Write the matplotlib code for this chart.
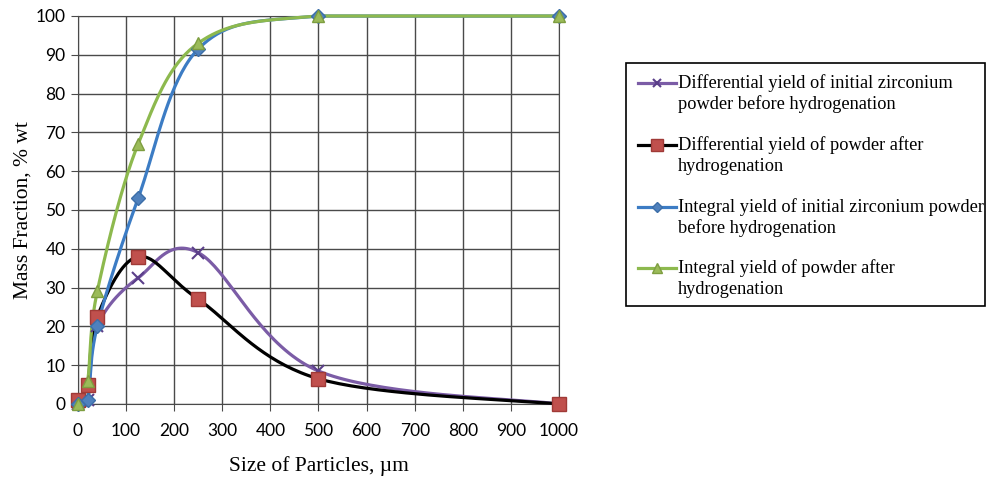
import numpy as np
import matplotlib.pyplot as plt
from matplotlib.lines import Line2D
from matplotlib.patches import Rectangle

# particle size, um
size = [0, 20, 40, 125, 250, 500, 1000]

diff_before = [0, 1, 20, 32.5, 39, 8.5, 0]
diff_after = [1, 5, 22.5, 38, 27, 6.5, 0]
int_before = [0, 1, 20, 53, 91.5, 100, 100]
int_after = [0, 6, 29, 67, 93, 100, 100]

labels = ["Differential yield of initial zirconium\npowder before hydrogenation",
          "Differential yield of powder after\nhydrogenation",
          "Integral yield of initial zirconium powder\nbefore hydrogenation",
          "Integral yield of powder after\nhydrogenation"]


def smooth(x, y, n=40):
    # Excel-like smoothed line: bezier segments with catmull-rom control points
    x = np.asarray(x, float)
    y = np.asarray(y, float)
    px = np.concatenate([[x[0]], x, [x[-1]]])
    py = np.concatenate([[y[0]], y, [y[-1]]])
    t = np.linspace(0, 1, n)[:, None]
    xs, ys = [], []
    for i in range(len(x) - 1):
        p0 = np.array([px[i + 1], py[i + 1]])
        p3 = np.array([px[i + 2], py[i + 2]])
        p1 = p0 + (p3 - np.array([px[i], py[i]])) / 6
        p2 = p3 - (np.array([px[i + 3], py[i + 3]]) - p0) / 6
        b = ((1 - t) ** 3) * p0 + 3 * ((1 - t) ** 2) * t * p1 + 3 * (1 - t) * t ** 2 * p2 + t ** 3 * p3
        xs.append(b[:, 0])
        ys.append(b[:, 1])
    return np.concatenate(xs), np.minimum(np.concatenate(ys), 100)


W, H = 987, 478
fig = plt.figure(figsize=(W / 100, H / 100), dpi=100)
ax = fig.add_axes([78 / W, 74 / H, 481 / W, 388 / H])

styles = [
    dict(color="#7B5CA6", marker="x", ms=8, mec="#5B3F8A", mew=1.5, mfc="none"),
    dict(color="black", marker="s", ms=10, mfc="#C0504D", mec="#A03A37", mew=1),
    dict(color="#3C7CC4", marker="D", ms=7, mfc="#4F81BD", mec="#3C6EA8", mew=1),
    dict(color="#8DB94E", marker="^", ms=9, mfc="#9BBB59", mec="#7E9E40", mew=1),
]
series = [diff_before, diff_after, int_before, int_after]

for vals, st in zip(series, styles):
    sx, sy = smooth(size, vals)
    ax.plot(sx, sy, color=st["color"], lw=2.3, clip_on=False, zorder=3)
    ax.plot(size, vals, ls="none", marker=st["marker"], ms=st["ms"], mfc=st["mfc"],
            mec=st["mec"], mew=st["mew"], clip_on=False, zorder=4)

ax.set_xlim(0, 1000)
ax.set_ylim(0, 100)
ax.set_xticks(range(0, 1001, 100))
ax.set_yticks(range(0, 101, 10))
ax.grid(True, color="#4a4a4a", lw=1)
ax.set_axisbelow(True)
for s in ax.spines.values():
    s.set_color("#4a4a4a")
ax.tick_params(direction="out", length=5, color="#4a4a4a", labelsize=12.5, pad=4)
ax.tick_params(axis="x", pad=9)
for lb in ax.get_xticklabels() + ax.get_yticklabels():
    lb.set_family("Lato")

ax.set_xlabel("Size of Particles, µm", family="Liberation Serif", fontsize=15.5, labelpad=12)
ax.set_ylabel("Mass Fraction, % wt", family="Liberation Serif", fontsize=15.5, labelpad=2)

# legend box drawn by hand so the handle sits on the first text line
fig.patches.append(Rectangle((626 / W, 1 - 306 / H), 359 / W, 243 / H, transform=fig.transFigure,
                             fill=False, ec="black", lw=1.2))
entry_y = [83, 145, 207, 268]
for lab, st, yp in zip(labels, styles, entry_y):
    yf = 1 - yp / H
    fig.lines.append(Line2D([638 / W, 676 / W], [yf, yf], transform=fig.transFigure,
                            color=st["color"], lw=2.3))
    fig.lines.append(Line2D([657 / W], [yf], transform=fig.transFigure, ls="none",
                            marker=st["marker"], ms=st["ms"] * 0.8, mfc=st["mfc"],
                            mec=st["mec"], mew=st["mew"]))
    first, second = lab.split("\n")
    fig.text(678 / W, yf, first, family="Liberation Serif", fontsize=13.2, va="center")
    fig.text(678 / W, 1 - (yp + 21) / H, second, family="Liberation Serif", fontsize=13.2, va="center")

fig.savefig("out.png", dpi=100)
